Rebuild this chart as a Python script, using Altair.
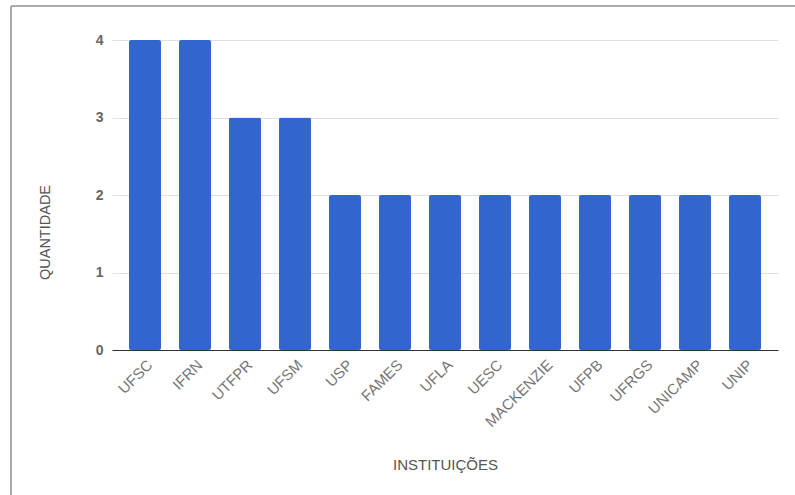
import altair as alt
import pandas as pd

instituicoes = ["UFSC", "IFRN", "UTFPR", "UFSM", "USP", "FAMES", "UFLA", "UESC",
                "MACKENZIE", "UFPB", "UFRGS", "UNICAMP", "UNIP"]
quantidade = [4, 4, 3, 3, 2, 2, 2, 2, 2, 2, 2, 2, 2]

df = pd.DataFrame({"inst": instituicoes, "q": quantidade})

FONT = "Liberation Sans"

bars = alt.Chart(df).mark_bar(color="#3366CC", cornerRadius=2).encode(
    x=alt.X("inst:N", sort=instituicoes,
            scale=alt.Scale(paddingInner=0.36, paddingOuter=0.34),
            axis=alt.Axis(title="INSTITUIÇÕES", labelAngle=-45, ticks=False,
                          domain=True, domainColor="#333333", domainWidth=1,
                          labelFont=FONT, labelFontSize=15, labelColor="#757575",
                          labelPadding=7, titleFont=FONT, titleFontSize=15,
                          titleFontWeight="normal", titleColor="#555555",
                          titleY=119, titleBaseline="alphabetic")),
    y=alt.Y("q:Q", scale=alt.Scale(domain=[0, 4], nice=False),
            axis=alt.Axis(title="QUANTIDADE", values=[0, 1, 2, 3, 4], format="d",
                          ticks=False, domain=False, grid=True, gridColor="#e0e0e0",
                          gridWidth=1, labelFont=FONT, labelFontSize=14,
                          labelFontWeight="bold", labelColor="#666666", labelPadding=9,
                          titleFont=FONT, titleFontSize=14.5, titleFontWeight="normal",
                          titleColor="#555555", titleX=-67, titleY=192,
                          titleBaseline="middle", titleAngle=-90)),
)

left_border = alt.Chart(df).mark_rule(color="#aaaaaa", strokeWidth=1.5).encode(
    x=alt.value(-101), y=alt.value(-34), y2=alt.value(455))
top_border = alt.Chart(df).mark_rule(color="#aaaaaa", strokeWidth=1.5).encode(
    x=alt.value(-101), x2=alt.value(683), y=alt.value(-34))

chart = alt.layer(bars, left_border, top_border).properties(
    width=666, height=310,
    padding={"left": 112, "top": 40, "right": 17, "bottom": 145},
    autosize=alt.AutoSizeParams(type="none"),
    background="white",
).configure_view(stroke=None)

chart.save("out.html", embed_options={"renderer": "svg", "actions": False})
